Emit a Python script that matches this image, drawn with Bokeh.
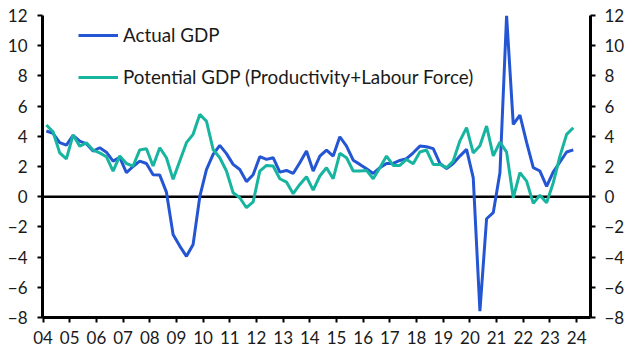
from bokeh.plotting import figure
from bokeh.models import (ColumnDataSource, LinearAxis, FixedTicker, Range1d,
                          Span, Legend, LegendItem)
from bokeh.embed import file_html
from bokeh.resources import INLINE

# ---- data (quarterly, 2004Q1 .. 2023Q4), % y/y ----
start_year = 2004
actual_gdp = [4.35, 4.2, 3.58, 3.42, 4.06, 3.68, 3.5, 3.02, 3.24, 2.95, 2.36, 2.6,
              1.6, 2.0, 2.36, 2.2, 1.45, 1.43, 0.3, -2.5, -3.27, -3.95, -3.16, 0.0,
              1.8, 2.8, 3.4, 2.85, 2.14, 1.8, 1.0, 1.45, 2.65, 2.47, 2.58, 1.63,
              1.74, 1.54, 2.25, 3.02, 1.7, 2.69, 3.09, 2.69, 3.97, 3.35, 2.42, 2.14,
              1.85, 1.54, 1.92, 2.2, 2.2, 2.4, 2.52, 2.91, 3.35, 3.31, 3.18, 2.2,
              1.87, 2.2, 2.69, 3.13, 1.25, -7.58, -1.46, -1.06, 1.59, 12.0, 4.79, 5.4,
              3.6, 1.92, 1.7, 0.68, 1.65, 2.3, 2.96, 3.1]
potential_gdp = [4.75, 4.3, 2.9, 2.5, 4.08, 3.35, 3.57, 3.09, 2.9, 2.65, 1.7, 2.7,
                 2.2, 2.03, 3.1, 3.18, 2.03, 3.24, 2.58, 1.15, 2.36, 3.58, 4.13, 5.45,
                 5.0, 3.13, 2.58, 1.7, 0.26, -0.07, -0.73, -0.35, 1.7, 2.07, 2.03, 1.19,
                 0.97, 0.2, 0.81, 1.32, 0.44, 1.37, 1.92, 1.19, 2.87, 2.58, 1.7, 1.7,
                 1.74, 1.19, 1.92, 2.69, 2.07, 2.07, 2.47, 2.18, 2.96, 3.09, 2.14, 2.14,
                 1.92, 2.36, 3.7, 4.57, 2.9, 3.38, 4.68, 2.7, 3.62, 2.95, -0.07, 1.59,
                 1.03, -0.44, 0.1, -0.4, 0.93, 2.69, 4.13, 4.57]
tick_years = list(range(2004, 2025))
tick_labels = ["04", "05", "06", "07", "08", "09", "10", "11", "12", "13", "14",
               "15", "16", "17", "18", "19", "20", "21", "22", "23", "24"]
y_ticks = [-8, -6, -4, -2, 0, 2, 4, 6, 8, 10, 12]
series_names = ["Actual GDP", "Potential GDP (Productivity+Labour Force)"]

# mid-quarter positions
x = [start_year + i // 4 + (i % 4) / 4 + 0.125 for i in range(len(actual_gdp))]
src = ColumnDataSource(dict(x=x, a=actual_gdp, p=potential_gdp))

FONT = "Lato"
TXT = "#1a1a1a"
BLUE = "#2456d3"
TEAL = "#17b5a0"

p = figure(width=632, height=357, output_backend="svg", toolbar_location=None,
           x_range=Range1d(2003.98, 2024.52), y_range=Range1d(-8, 12),
           min_border_left=42, min_border_right=42, min_border_top=15,
           min_border_bottom=40)
p.outline_line_color = None
p.xgrid.visible = False
p.ygrid.visible = False
p.background_fill_color = None
p.border_fill_color = None

def style_axis(ax):
    ax.axis_line_color = "black"
    ax.axis_line_width = 3
    ax.major_tick_line_color = "black"
    ax.major_tick_line_width = 2
    ax.major_tick_out = 5
    ax.major_tick_in = 0
    ax.minor_tick_line_color = None
    ax.major_label_text_font = FONT
    ax.major_label_text_font_size = "17px"
    ax.major_label_text_color = TXT

# x axis
xa = p.xaxis[0]
xa.ticker = FixedTicker(ticks=tick_years)
xa.major_label_overrides = {yr: lab for yr, lab in zip(tick_years, tick_labels)}
style_axis(xa)
xa.major_label_standoff = 8

# left y axis
ya = p.yaxis[0]
ya.ticker = FixedTicker(ticks=y_ticks)
style_axis(ya)
ya.major_label_standoff = 10

# right y axis
ra = LinearAxis(ticker=FixedTicker(ticks=y_ticks))
style_axis(ra)
ra.major_label_standoff = 9
p.add_layout(ra, "right")

zero = Span(location=0, dimension="width", line_color="black", line_width=2.5,
            level="underlay")
p.add_layout(zero)

r1 = p.line("x", "a", source=src, line_color=BLUE, line_width=3)
r2 = p.line("x", "p", source=src, line_color=TEAL, line_width=3)

legend = Legend(items=[LegendItem(label=series_names[0], renderers=[r1]),
                       LegendItem(label=series_names[1], renderers=[r2])],
                location=(36, 229), orientation="vertical")
legend.glyph_width = 40
legend.glyph_height = 20
legend.spacing = 19
legend.padding = 0
legend.margin = 0
legend.label_standoff = 5
legend.label_text_font = FONT
legend.label_text_font_size = "18.8px"
legend.label_text_color = TXT
legend.border_line_color = None
legend.background_fill_alpha = 0
p.add_layout(legend, "center")

open("out.html", "w").write(file_html(p, INLINE))
